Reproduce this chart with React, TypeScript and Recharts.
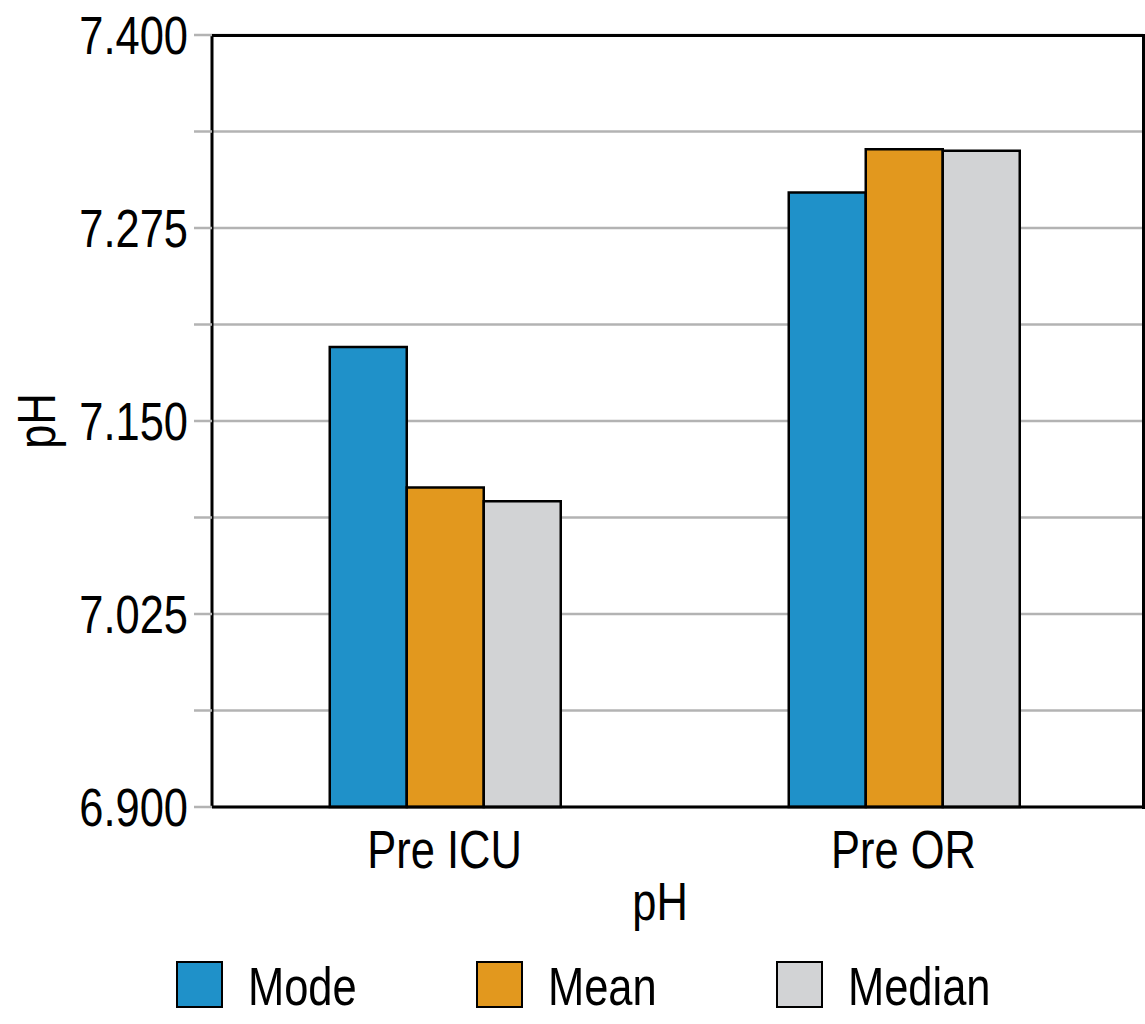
import React from 'react';
import {
  BarChart,
  Bar,
  XAxis,
  YAxis,
  CartesianGrid,
  Legend,
} from 'recharts';

const categories = ['Pre ICU', 'Pre OR'];
const modeValues = [7.198, 7.298];
const meanValues = [7.107, 7.326];
const medianValues = [7.098, 7.325];
const yTicks = [6.9, 6.9625, 7.025, 7.0875, 7.15, 7.2125, 7.275, 7.3375, 7.4];

const series = [
  { key: 'mode', name: 'Mode', color: '#1f91c9' },
  { key: 'mean', name: 'Mean', color: '#e2981e' },
  { key: 'median', name: 'Median', color: '#d2d3d5' },
];

const data = categories.map((name, i) => ({
  name,
  mode: modeValues[i],
  mean: meanValues[i],
  median: medianValues[i],
}));

const FONT = '"Liberation Sans", Arial, sans-serif';
const SIZE = 53;
const SQUEEZE = 0.82;

// condensed look: Liberation Sans squeezed horizontally
function NarrowText({ x, y, anchor = 'middle', rotate = 0, children }: any) {
  return (
    <text
      transform={`translate(${x},${y}) rotate(${rotate}) scale(${SQUEEZE},1)`}
      textAnchor={anchor}
      fontSize={SIZE}
      fontFamily={FONT}
      fill="#000"
    >
      {children}
    </text>
  );
}

function YTick({ x, y, payload, index }: any) {
  if (index % 2 !== 0) return null;
  return (
    <NarrowText x={x} y={y + 19} anchor="end">
      {Number(payload.value).toFixed(3)}
    </NarrowText>
  );
}

function XTick({ x, y, payload }: any) {
  return (
    <NarrowText x={x} y={y + 61}>
      {payload.value}
    </NarrowText>
  );
}

function XLabel() {
  return <NarrowText x={660} y={920}>pH</NarrowText>;
}

function YLabel() {
  return <NarrowText x={55} y={421} rotate={-90}>pH</NarrowText>;
}

function LegendContent() {
  return (
    <div style={{ height: 80, display: 'flex', alignItems: 'center', paddingLeft: 176 }}>
      {series.map((s) => (
        <div key={s.key} style={{ width: 300, display: 'flex', alignItems: 'center' }}>
          <div
            style={{
              width: 43,
              height: 43,
              background: s.color,
              border: '2px solid #000',
              marginRight: 25,
              flexShrink: 0,
            }}
          />
          <span
            style={{
              fontSize: SIZE,
              fontFamily: FONT,
              color: '#000',
              lineHeight: 1,
              display: 'inline-block',
              transform: `scaleX(${SQUEEZE})`,
              transformOrigin: 'left center',
              marginTop: 4,
            }}
          >
            {s.name}
          </span>
        </div>
      ))}
    </div>
  );
}

export default function App() {
  return (
    <div style={{ position: 'absolute', left: 0, top: 0, background: '#fff', width: 1145, height: 1024 }}>
      <BarChart
        width={1145}
        height={1024}
        data={data}
        margin={{ top: 35, right: 2, left: 0, bottom: 0 }}
        barCategoryGap="25%"
        barGap={0}
      >
        <CartesianGrid vertical={false} stroke="#b3b3b3" strokeWidth={2.5} />
        <XAxis
          dataKey="name"
          height={137}
          padding={{ left: 3, right: 10 }}
          tickLine={false}
          tickSize={0}
          tickMargin={0}
          tick={<XTick />}
          axisLine={{ stroke: '#000', strokeWidth: 3 }}
          label={<XLabel />}
        />
        <YAxis
          width={212}
          domain={[6.9, 7.4]}
          ticks={yTicks}
          interval={0}
          tickSize={18}
          tickMargin={6}
          tickLine={{ stroke: '#b3b3b3', strokeWidth: 2.5 }}
          axisLine={{ stroke: '#000', strokeWidth: 3 }}
          tick={<YTick />}
          label={<YLabel />}
        />
        <Legend verticalAlign="bottom" content={<LegendContent />} />
        {series.map((s) => (
          <Bar
            key={s.key}
            dataKey={s.key}
            name={s.name}
            fill={s.color}
            stroke="#000"
            strokeWidth={2.5}
            isAnimationActive={false}
          />
        ))}
      </BarChart>
      {/* top and right frame of the plot area */}
      <div
        style={{
          position: 'absolute',
          left: 212,
          top: 33.5,
          width: 929.5,
          height: 772,
          borderTop: '3px solid #000',
          borderRight: '3px solid #000',
          pointerEvents: 'none',
        }}
      />
    </div>
  );
}
